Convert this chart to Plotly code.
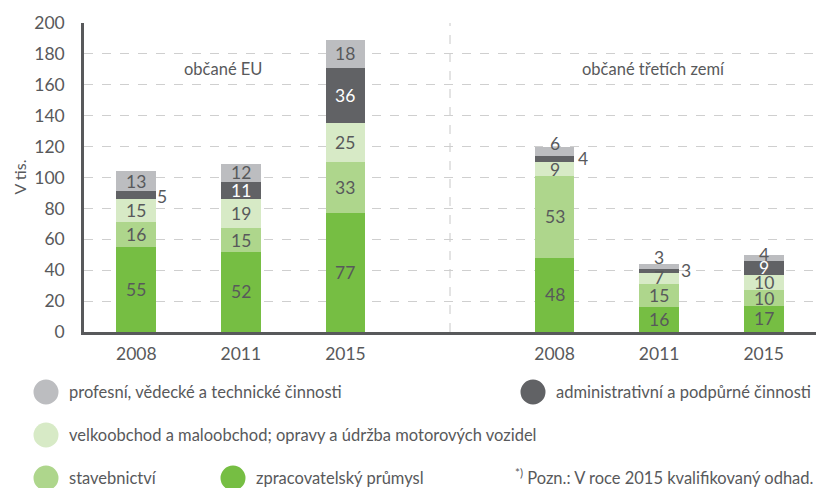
import plotly.graph_objects as go

# ---- data ----
years = ["2008", "2011", "2015"]
groups = ["občané EU", "občané třetích zemí"]
series_names = [
    "zpracovatelský průmysl",
    "stavebnictví",
    "velkoobchod a maloobchod; opravy a údržba motorových vozidel",
    "administrativní a podpůrné činnosti",
    "profesní, vědecké a technické činnosti",
]
manuf = [55, 52, 77, 48, 16, 17]
constr = [16, 15, 33, 53, 15, 10]
trade = [15, 19, 25, 9, 7, 10]
admin = [5, 11, 36, 4, 3, 9]
prof = [13, 12, 18, 6, 3, 4]
footnote = "<sup>*)</sup> Pozn.: V roce 2015 kvalifikovaný odhad."
y_title = "V tis."

values = [manuf, constr, trade, admin, prof]
colors = ["#76be43", "#aed68c", "#d7eac6", "#616265", "#bcbdc0"]
label_colors = ["#58595b", "#58595b", "#58595b", "#ffffff", "#58595b"]
TXT = "#58595b"
FONT = "Lato"

# x positions: two groups of three bars with a gap slot between
xpos = [0, 1, 2, 4, 5, 6]
xlabels = years + years

fig = go.Figure()
for name, vals, col in zip(series_names, values, colors):
    fig.add_trace(go.Bar(
        x=xpos, y=vals, name=name, marker=dict(color=col, line=dict(width=0)),
        width=0.38, showlegend=False, hoverinfo="y+name",
    ))

# special label placement for small segments: (series index, bar index) -> (xshift, yshift, color)
special = {
    (3, 0): (26, -1, TXT),
    (3, 3): (28, 0, TXT),
    (3, 4): (27, 0, TXT),
    (4, 3): (0, 8, TXT),
    (4, 4): (0, 9, TXT),
    (4, 5): (0, 3, TXT),
    (2, 4): (0, 1, TXT),
}

annotations = []
for i in range(len(xpos)):
    base = 0
    for s, vals in enumerate(values):
        v = vals[i]
        center = base + v / 2
        xs, ys, c = special.get((s, i), (0, 0, label_colors[s]))
        annotations.append(dict(
            x=xpos[i], y=center, xref="x", yref="y", text=str(v), showarrow=False,
            xshift=xs, yshift=ys, font=dict(family=FONT, size=17.5, color=c),
        ))
        base += v

W, H = 816, 488
ml, mr, mt, mb = 84, 0, 23, 156
pw, ph = W - ml - mr, H - mt - mb


def px2paper(px, py):
    return (px - ml) / pw, (H - mb - py) / ph


# group titles
annotations.append(dict(x=0.83, y=170, xref="x", yref="y", text=groups[0], showarrow=False,
                        font=dict(family=FONT, size=16.5, color=TXT)))
annotations.append(dict(x=4.95, y=170, xref="x", yref="y", text=groups[1], showarrow=False,
                        font=dict(family=FONT, size=16.5, color=TXT)))

# y axis title
annotations.append(dict(x=px2paper(19, 0)[0], y=100, xref="paper", yref="y", text=y_title,
                        showarrow=False, textangle=-90, xanchor="center", yanchor="middle",
                        font=dict(family=FONT, size=16, color=TXT)))

shapes = []
# vertical separator
shapes.append(dict(type="line", xref="x", yref="y", x0=3, x1=3, y0=0, y1=200,
                   line=dict(color="#c8c8c8", width=1, dash="dash"), layer="below"))

# custom legend (pixel positions in paper space)
legend_items = [
    (4, 46, 392),
    (3, 533, 392),
    (2, 46, 435),
    (1, 46, 478),
    (0, 233, 478),
]
r = 12.5
for s, cx, cy in legend_items:
    x0, y0 = px2paper(cx - r, cy + r)
    x1, y1 = px2paper(cx + r, cy - r)
    shapes.append(dict(type="circle", xref="paper", yref="paper", x0=x0, x1=x1, y0=y0, y1=y1,
                       fillcolor=colors[s], line=dict(width=0)))
    tx, ty = px2paper(cx + r + 8, cy)
    annotations.append(dict(x=tx, y=ty, xref="paper", yref="paper", text=series_names[s],
                            showarrow=False, xanchor="left", yanchor="middle",
                            font=dict(family=FONT, size=16.5, color=TXT)))

fx, fy = px2paper(815, 477)
annotations.append(dict(x=fx, y=fy, xref="paper", yref="paper", text=footnote, showarrow=False,
                        xanchor="right", yanchor="middle",
                        font=dict(family=FONT, size=16.5, color=TXT)))

fig.update_layout(
    width=W, height=H, barmode="stack",
    margin=dict(l=ml, r=mr, t=mt, b=mb),
    paper_bgcolor="white", plot_bgcolor="white",
    font=dict(family=FONT, color=TXT),
    annotations=annotations, shapes=shapes,
    xaxis=dict(
        range=[-0.5, 6.5], tickvals=xpos, ticktext=xlabels, showgrid=False,
        showline=True, linecolor="#58595b", linewidth=2.5, ticks="",
        tickfont=dict(family=FONT, size=17.5, color=TXT), zeroline=False,
        ticklabelstandoff=4, fixedrange=True,
    ),
    yaxis=dict(
        range=[0, 200], tick0=0, dtick=20, showgrid=True, gridcolor="#cfcfcf",
        griddash="dash", gridwidth=1, showline=True, linecolor="#58595b", linewidth=2.5,
        ticks="", ticklabelstandoff=13, zeroline=False,
        tickfont=dict(family=FONT, size=17.5, color=TXT),
    ),
)

fig.write_html("out.html", config={"displayModeBar": False},
               post_script="document.body.style.margin='0';")
